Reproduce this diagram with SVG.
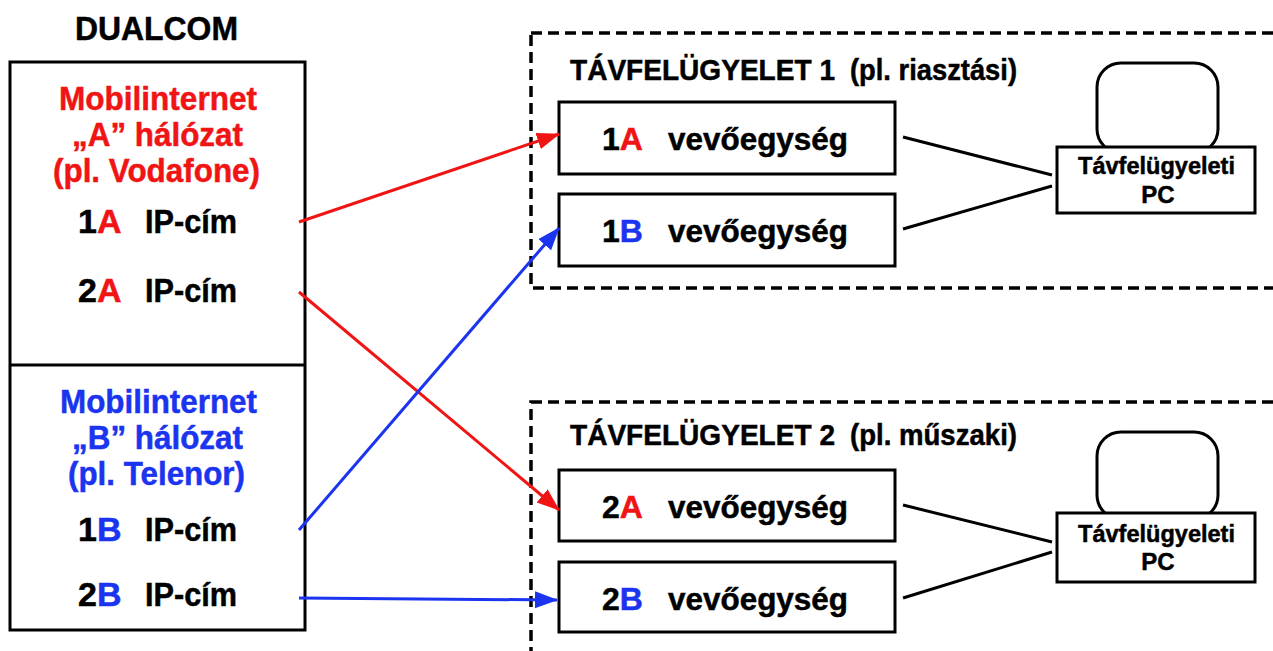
<svg xmlns="http://www.w3.org/2000/svg" width="1273" height="651" viewBox="0 0 1273 651">
  <defs>
    <style>
      text { font-family: "Liberation Sans", Arial, sans-serif; font-weight: bold; fill: #000; stroke: #000; stroke-width: 0.5; }
      .red { fill: #f01414; stroke: #f01414; }
      .blue { fill: #1a34f0; stroke: #1a34f0; }
      .box { fill: none; stroke: #000; stroke-width: 3; }
      .dash { fill: none; stroke: #000; stroke-width: 3.5; stroke-dasharray: 11 6; }
      .big { font-size: 34px; }
      .mid { font-size: 32px; }
      .title { font-size: 30px; }
      .pc { font-size: 24px; }
      .wire { stroke: #000; stroke-width: 3; fill: none; }
      .ra { stroke: #f01414; stroke-width: 3; fill: none; marker-end: url(#ahr); }
      .ba { stroke: #1a34f0; stroke-width: 3; fill: none; marker-end: url(#ahb); }
    </style>
    <marker id="ahr" markerUnits="userSpaceOnUse" markerWidth="24" markerHeight="18" refX="22" refY="8.5" orient="auto">
      <path d="M0,0 L23,8.5 L0,17 z" fill="#f01414"/>
    </marker>
    <marker id="ahb" markerUnits="userSpaceOnUse" markerWidth="24" markerHeight="18" refX="22" refY="8.5" orient="auto">
      <path d="M0,0 L23,8.5 L0,17 z" fill="#1a34f0"/>
    </marker>
  </defs>
  <rect width="1273" height="651" fill="#fff"/>

  <g id="dualcom">
    <text class="big" x="75" y="40" textLength="163" lengthAdjust="spacingAndGlyphs">DUALCOM</text>
    <rect class="box" x="10" y="62" width="295" height="568"/>
    <line class="box" x1="10" y1="365" x2="305" y2="365"/>
  </g>

  <g id="network-a">
    <text class="big red" x="59" y="110" textLength="198" lengthAdjust="spacingAndGlyphs">Mobilinternet</text>
    <text class="big red" x="72" y="146" textLength="171" lengthAdjust="spacingAndGlyphs">„A” hálózat</text>
    <text class="big red" x="53" y="182" textLength="207" lengthAdjust="spacingAndGlyphs">(pl. Vodafone)</text>
    <text class="big" y="233"><tspan x="78">1</tspan><tspan class="red">A</tspan><tspan x="145" textLength="92" lengthAdjust="spacingAndGlyphs">IP-cím</tspan></text>
    <text class="big" y="302"><tspan x="78">2</tspan><tspan class="red">A</tspan><tspan x="145" textLength="92" lengthAdjust="spacingAndGlyphs">IP-cím</tspan></text>
  </g>

  <g id="network-b">
    <text class="big blue" x="60" y="413" textLength="197" lengthAdjust="spacingAndGlyphs">Mobilinternet</text>
    <text class="big blue" x="72" y="449" textLength="171" lengthAdjust="spacingAndGlyphs">„B” hálózat</text>
    <text class="big blue" x="68" y="485" textLength="177" lengthAdjust="spacingAndGlyphs">(pl. Telenor)</text>
    <text class="big" y="541"><tspan x="78">1</tspan><tspan class="blue">B</tspan><tspan x="145" textLength="92" lengthAdjust="spacingAndGlyphs">IP-cím</tspan></text>
    <text class="big" y="606"><tspan x="78">2</tspan><tspan class="blue">B</tspan><tspan x="145" textLength="92" lengthAdjust="spacingAndGlyphs">IP-cím</tspan></text>
  </g>

  <g id="tf1">
    <rect class="dash" x="531" y="33" width="780" height="255"/>
    <text class="title" y="80"><tspan x="570" textLength="265" lengthAdjust="spacingAndGlyphs">TÁVFELÜGYELET 1</tspan><tspan x="850" textLength="167" lengthAdjust="spacingAndGlyphs">(pl. riasztási)</tspan></text>
  </g>
  <g id="rx-1a">
    <rect class="box" x="559" y="102" width="336" height="72"/>
    <text class="mid" y="150"><tspan x="602">1</tspan><tspan class="red">A</tspan><tspan x="668" textLength="180" lengthAdjust="spacingAndGlyphs">vevőegység</tspan></text>
  </g>
  <g id="rx-1b">
    <rect class="box" x="559" y="194" width="336" height="72"/>
    <text class="mid" y="242"><tspan x="602">1</tspan><tspan class="blue">B</tspan><tspan x="668" textLength="180" lengthAdjust="spacingAndGlyphs">vevőegység</tspan></text>
  </g>
  <g id="pc1">
    <rect class="box" x="1097" y="63" width="121" height="90" rx="24" ry="24"/>
    <rect x="1057" y="147" width="198" height="66" fill="#fff" stroke="#000" stroke-width="3"/>
    <text class="pc" x="1078" y="174" textLength="157" lengthAdjust="spacingAndGlyphs">Távfelügyeleti</text>
    <text class="pc" x="1158" y="203" text-anchor="middle">PC</text>
  </g>

  <g id="tf2">
    <rect class="dash" x="531" y="402" width="780" height="300"/>
    <text class="title" y="445"><tspan x="570" textLength="265" lengthAdjust="spacingAndGlyphs">TÁVFELÜGYELET 2</tspan><tspan x="850" textLength="167" lengthAdjust="spacingAndGlyphs">(pl. műszaki)</tspan></text>
  </g>
  <g id="rx-2a">
    <rect class="box" x="559" y="470" width="336" height="71"/>
    <text class="mid" y="518"><tspan x="602">2</tspan><tspan class="red">A</tspan><tspan x="668" textLength="180" lengthAdjust="spacingAndGlyphs">vevőegység</tspan></text>
  </g>
  <g id="rx-2b">
    <rect class="box" x="559" y="562" width="336" height="70"/>
    <text class="mid" y="610"><tspan x="602">2</tspan><tspan class="blue">B</tspan><tspan x="668" textLength="180" lengthAdjust="spacingAndGlyphs">vevőegység</tspan></text>
  </g>
  <g id="pc2">
    <rect class="box" x="1097" y="432" width="121" height="87" rx="24" ry="24"/>
    <rect x="1057" y="513" width="198" height="69" fill="#fff" stroke="#000" stroke-width="3"/>
    <text class="pc" x="1078" y="542" textLength="157" lengthAdjust="spacingAndGlyphs">Távfelügyeleti</text>
    <text class="pc" x="1158" y="570" text-anchor="middle">PC</text>
  </g>

  <g id="connectors">
    <line class="wire" x1="903" y1="137" x2="1052" y2="175"/>
    <line class="wire" x1="903" y1="229" x2="1052" y2="186"/>
    <line class="wire" x1="903" y1="505" x2="1052" y2="542"/>
    <line class="wire" x1="903" y1="598" x2="1052" y2="552"/>
    <line class="ra" x1="299" y1="222" x2="559" y2="134"/>
    <line class="ra" x1="299" y1="292" x2="559" y2="510"/>
    <line class="ba" x1="299" y1="530" x2="559" y2="228"/>
    <line class="ba" x1="299" y1="598" x2="557" y2="600"/>
  </g>
</svg>
